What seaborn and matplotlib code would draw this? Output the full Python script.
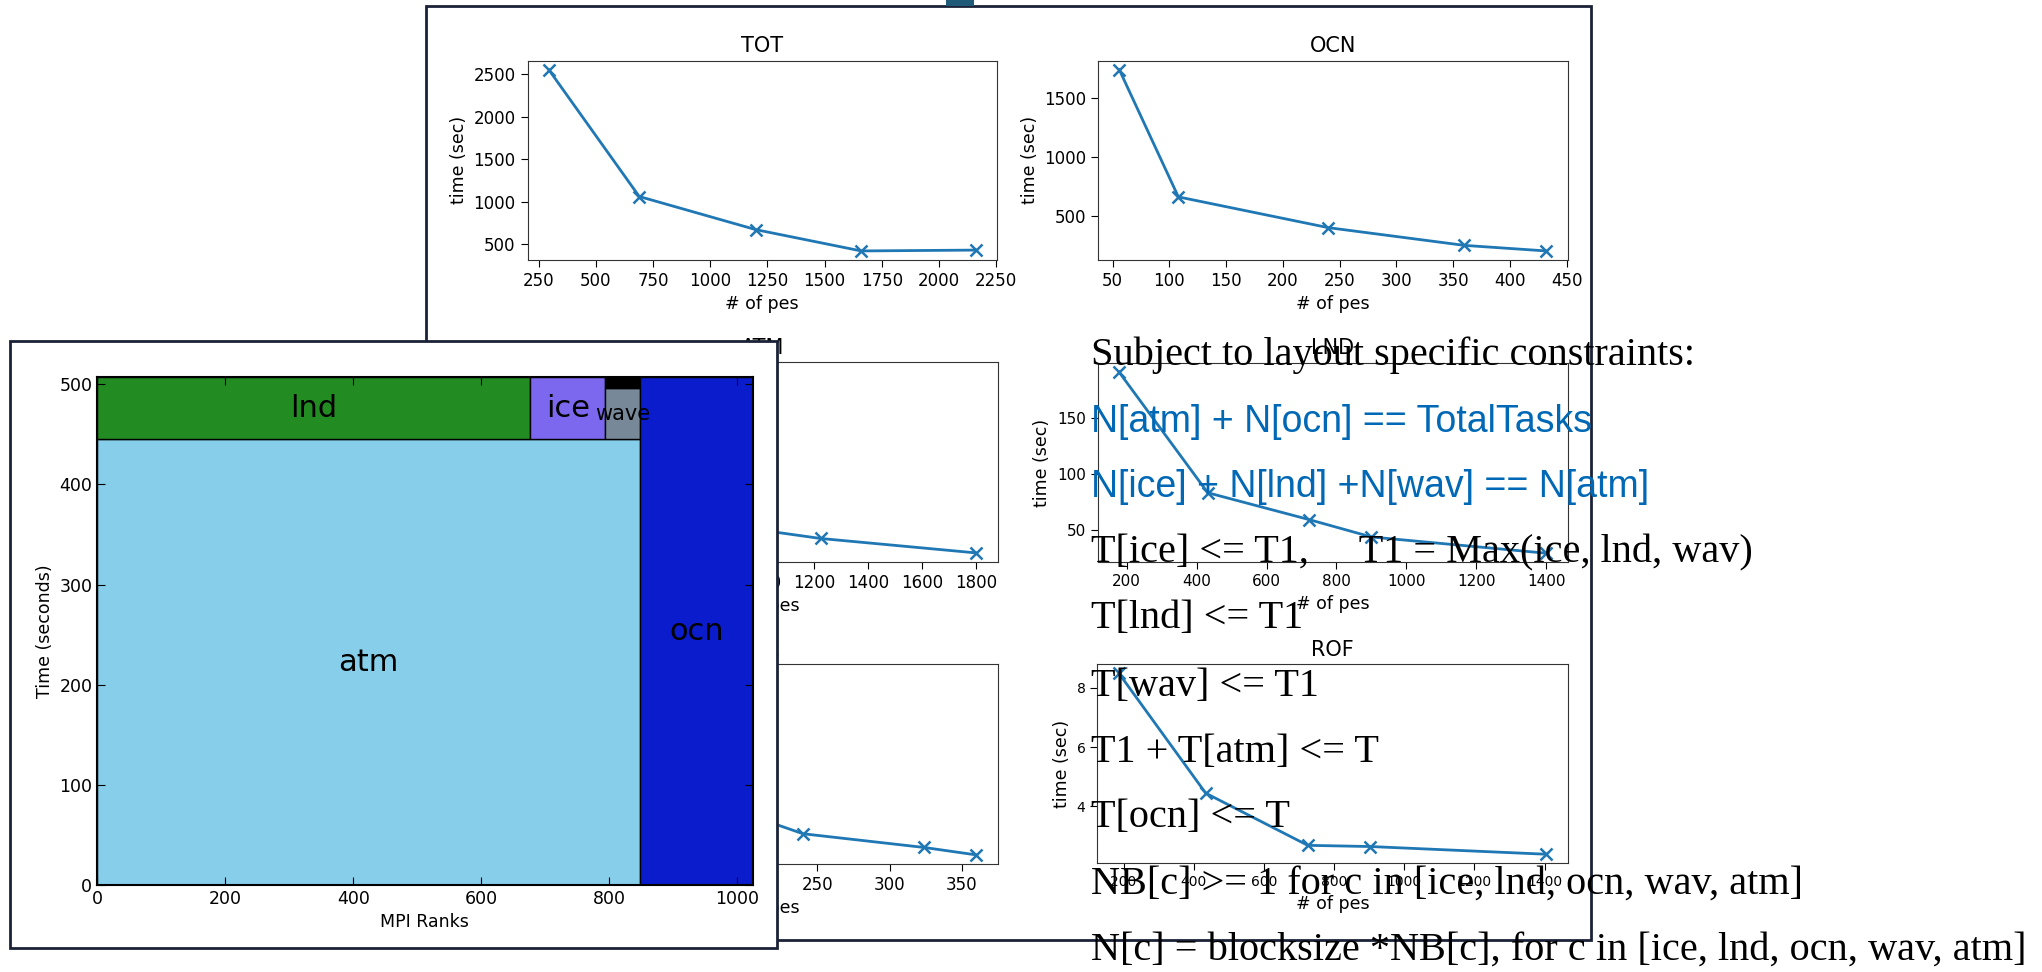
import matplotlib
matplotlib.use('Agg')
import matplotlib.pyplot as plt
import seaborn as sns
from matplotlib.patches import Rectangle
from matplotlib.ticker import MultipleLocator

W, H = 2042, 972

# scaling runs (pes vs time) for each component
tot_pes = [295, 690, 1200, 1660, 2160]
tot_time = [2550, 1060, 670, 420, 430]
ocn_pes = [56, 108, 240, 360, 432]
ocn_time = [1740, 665, 405, 255, 208]
atm_pes = [220, 450, 730, 1225, 1800]
atm_time = [1400, 600, 370, 240, 140]
lnd_pes = [178, 432, 722, 900, 1400]
lnd_time = [191, 83, 59, 43.5, 29]
ice_pes = [64, 180, 240, 324, 360]
ice_time = [520, 168, 87, 50, 30]
rof_pes = [186, 434, 725, 903, 1405]
rof_time = [8.5, 4.45, 2.69, 2.65, 2.39]

# layout blocks (MPI ranks x time)
block_names = ['atm', 'lnd', 'ice', 'wave', 'cpl', 'ocn']
block_labels = ['atm', 'lnd', 'ice', 'wave', '', 'ocn']
block_x0 = [0, 0, 676, 794, 794, 848]
block_w = [848, 676, 118, 54, 54, 176]
block_y0 = [0, 445, 445, 445, 496, 0]
block_h = [445, 62, 62, 51, 11, 507]
block_colors = ['skyblue', 'forestgreen', 'mediumslateblue', 'lightslategray', 'black', '#0a1ccc']

constraints = [
    'Subject to layout specific constraints:',
    'N[atm] + N[ocn] == TotalTasks',
    'N[ice] + N[lnd] +N[wav] == N[atm]',
    'T[ice] <= T1,     T1 = Max(ice, lnd, wav)',
    'T[lnd] <= T1',
    'T[wav] <= T1',
    'T1 + T[atm] <= T',
    'T[ocn] <= T',
    'NB[c] >= 1 for c in [ice, lnd, ocn, wav, atm]',
    'N[c] = blocksize *NB[c], for c in [ice, lnd, ocn, wav, atm]',
]
highlight = [False, True, True, False, False, False, False, False, False, False]


def rect(x0, y0, x1, y1):
    return [x0 / W, 1 - y1 / H, (x1 - x0) / W, (y1 - y0) / H]


fig = plt.figure(figsize=(W / 100, H / 100), dpi=100)
fig.patch.set_facecolor('white')

# frame of the scaling-plot image
fig.add_artist(Rectangle((426 / W, 1 - 940 / H), (1591 - 426) / W, (940 - 6) / H,
                         transform=fig.transFigure, facecolor='white',
                         edgecolor='#1b2238', lw=2, zorder=0.5))
fig.add_artist(Rectangle((946 / W, 1 - 6 / H), 28 / W, 6 / H, transform=fig.transFigure,
                         facecolor='#1f5a78', edgecolor='none', zorder=0.6))

panels = [
    ('TOT', tot_pes, tot_time, (527.5, 60.7, 997, 260), 250, 500, 12),
    ('OCN', ocn_pes, ocn_time, (1098, 60.7, 1567.5, 260), 50, 500, 12),
    ('ATM', atm_pes, atm_time, (527.5, 362, 997.5, 562), 200, 500, 12),
    ('LND', lnd_pes, lnd_time, (1097.5, 362.7, 1567.8, 562.3), 200, 50, 11),
    ('ICE', ice_pes, ice_time, (527.5, 664, 997.7, 864), 50, 100, 12),
    ('ROF', rof_pes, rof_time, (1097.3, 664, 1567.7, 863.3), 200, 2, 10),
]

for title, xs, ys, box, xstep, ystep, tsize in panels:
    ax = fig.add_axes(rect(*box), zorder=1)
    sns.lineplot(x=xs, y=ys, ax=ax, color='#1f77b4', marker='x', markersize=9,
                 markeredgewidth=1.8, markeredgecolor='#1f77b4', linewidth=2)
    ax.xaxis.set_major_locator(MultipleLocator(xstep))
    ax.yaxis.set_major_locator(MultipleLocator(ystep))
    ax.tick_params(labelsize=tsize, length=5)
    ax.set_title(title, fontsize=15)
    ax.set_xlabel('# of pes', fontsize=12.5)
    ax.set_ylabel('time (sec)', fontsize=12.5)
    for sp in ax.spines.values():
        sp.set_color('#333333')

# layout picture on top
fig.add_artist(Rectangle((10 / W, 1 - 948 / H), (777 - 10) / W, (948 - 341) / H,
                         transform=fig.transFigure, facecolor='white',
                         edgecolor='#1b2238', lw=2, zorder=2))
ax = fig.add_axes(rect(97.2, 377.3, 752.6, 885), zorder=3)
ax.bar(block_x0, block_h, width=block_w, bottom=block_y0, align='edge',
       color=block_colors, edgecolor='black', linewidth=1)
for lab, x0, w, y0, h in zip(block_labels, block_x0, block_w, block_y0, block_h):
    if lab:
        ax.text(x0 + w / 2, y0 + h / 2, lab, ha='center', va='center',
                fontsize=15 if lab == 'wave' else 22)
ax.set_xlim(0, 1024)
ax.set_ylim(0, 507)
ax.xaxis.set_major_locator(MultipleLocator(200))
ax.yaxis.set_major_locator(MultipleLocator(100))
ax.tick_params(direction='in', top=True, right=True, labelsize=12.5, length=6)
ax.set_xlabel('MPI Ranks', fontsize=12.5)
ax.set_ylabel('Time (seconds)', fontsize=12.5)
for sp in ax.spines.values():
    sp.set_linewidth(1.5)

# constraint text overlay
baselines = [365, 431.7, 496.7, 562, 628, 696, 761.7, 827.3, 893.3, 960]
for txt, hl, yb in zip(constraints, highlight, baselines):
    if hl:
        fig.text(1091 / W, 1 - yb / H, txt, family='Liberation Sans',
                 fontsize=27, color='#0068b4', va='baseline', zorder=10)
    else:
        fig.text(1091 / W, 1 - yb / H, txt, family='Liberation Serif',
                 fontsize=29, color='black', va='baseline', zorder=10)

fig.savefig('out.png', dpi=100)
